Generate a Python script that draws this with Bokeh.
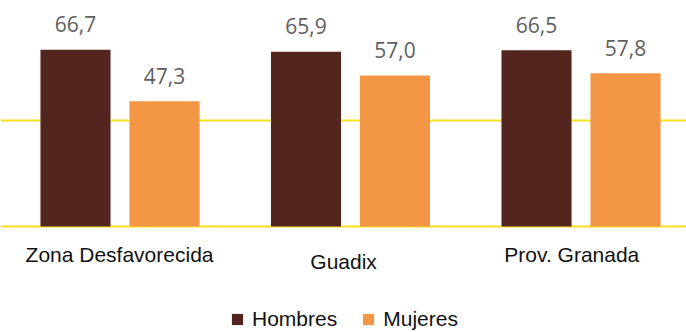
from bokeh.plotting import figure
from bokeh.models import ColumnDataSource, FixedTicker, Legend, LegendItem, LabelSet, Range1d
from bokeh.transform import dodge
from bokeh.core.properties import value
from bokeh.embed import file_html
from bokeh.resources import INLINE

# ---- data ----
categories = ["Zona Desfavorecida", "Guadix", "Prov. Granada"]
hombres = [66.7, 65.9, 66.5]
mujeres = [47.3, 57.0, 57.8]
grid_ticks = [0, 40]

# ---- styles ----
C_H = "#52261E"
C_M = "#F39646"
C_GRID = "#F7DF1E"
C_LABEL = "#5F5F5F"
BAR_W = 0.304
OFF = 0.193
CAT_Y = [-10.7, -13.2, -10.7]
CAT_DX = [-0.002, -0.03, -0.04]

def fmt(v):
    return f"{v:.1f}".replace(".", ",")

idx = list(range(len(categories)))
src = ColumnDataSource(dict(
    x=idx,
    h=hombres,
    m=mujeres,
    hl=[fmt(v) for v in hombres],
    ml=[fmt(v) for v in mujeres],
))

p = figure(width=686, height=332, output_backend="svg", toolbar_location=None,
           x_range=Range1d(-0.5184, 2.4577), y_range=Range1d(-40.0, 85.28),
           min_border=0, min_border_left=0, min_border_right=0,
           min_border_top=0, min_border_bottom=0)
p.outline_line_color = None
p.xaxis.visible = False
p.yaxis.visible = False
p.xgrid.visible = False
p.ygrid.ticker = FixedTicker(ticks=grid_ticks)
p.ygrid.grid_line_color = C_GRID
p.ygrid.grid_line_width = 2

rh = p.vbar(x=dodge("x", -OFF), top="h", bottom=0, width=BAR_W, source=src,
            fill_color=C_H, line_color=None)
rm = p.vbar(x=dodge("x", OFF), top="m", bottom=0, width=BAR_W, source=src,
            fill_color=C_M, line_color=None)

for field, lab, off in (("h", "hl", -OFF), ("m", "ml", OFF)):
    ls = LabelSet(x=dodge("x", off), y=field, text=lab, source=src,
                  y_offset=17.5, text_align="center", text_baseline="alphabetic",
                  text_font=value("Open Sans"), text_font_size="21px",
                  text_color=C_LABEL)
    p.add_layout(ls)

cat_src = ColumnDataSource(dict(
    x=[i + d for i, d in zip(idx, CAT_DX)],
    y=CAT_Y,
    t=categories,
))
p.text(x="x", y="y", text="t", source=cat_src, text_align="center",
       text_baseline="alphabetic", text_font=value("Liberation Sans"),
       text_font_size="21px", text_color="#111111")

legend = Legend(items=[LegendItem(label="Hombres", renderers=[rh]),
                       LegendItem(label="Mujeres", renderers=[rm])],
                orientation="horizontal", location=(230, 1),
                glyph_width=14, glyph_height=14, label_standoff=8, spacing=24,
                padding=0, margin=0, border_line_alpha=0, background_fill_alpha=0,
                label_text_font="Liberation Sans", label_text_font_size="21px",
                label_text_color="#111111", label_height=20)
p.add_layout(legend)

open("out.html", "w").write(file_html(p, INLINE))
